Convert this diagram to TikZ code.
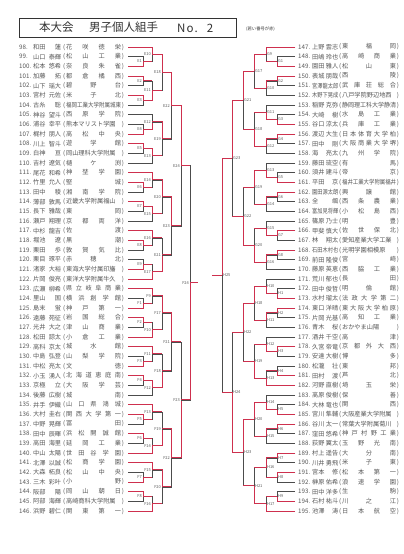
\documentclass[tikz,border=0pt]{standalone}
\usepackage{fontspec}
\setmainfont{Noto Sans CJK JP}
\usepackage{graphicx}
\usetikzlibrary{calc}
\definecolor{rl}{RGB}{206,48,78}
\newlength\fbw
\newcommand\fitbox[2]{\settowidth\fbw{#2}\ifdim\fbw>#1\relax\resizebox{#1}{\height}{#2}\else\makebox[#1][s]{#2}\fi}
\tikzset{
  txt/.style={font=\fontsize{6.2}{7}\selectfont, text=black!66, inner sep=0pt, anchor=west},
  br/.style={draw=black!70, line width=0.6pt},
  win/.style={draw=rl, line width=1.0pt},
  lb/.style={font=\fontsize{4}{4}\selectfont, text=black!65, inner sep=0.9pt},
}
\newcommand\lp[3]{%
  \pgfmathsetmacro\yy{47+(#1-98)*9.667}%
  \node[txt] (n#1) at (19,\yy) {#1.};
  \node[txt] (m#1) at (33,\yy) {\fitbox{28pt}{#2}};
  \node[txt] (s#1) at (63,\yy) {(\hspace{0.8pt}\fitbox{55pt}{#3}\hspace{0.8pt})};
  \coordinate (p#1) at (128,\yy);
}
\newcommand\rp[3]{%
  \pgfmathsetmacro\yy{47+(#1-147)*9.667}%
  \node[txt] (n#1) at (298,\yy) {#1.};
  \node[txt] (m#1) at (312,\yy) {\fitbox{26pt}{#2}};
  \node[txt] (s#1) at (339,\yy) {(\hspace{0.8pt}\fitbox{54pt}{#3}\hspace{0.8pt})};
  \coordinate (p#1) at (295,\yy);
}
% name, A, A-is-match, B, B-is-match, x, winner, label anchor
\newcommand\mt[8]{%
  \path let \p1=(#2), \p2=(#4) in coordinate (#1) at (#6pt,{0.5*\y1+0.5*\y2});
  \draw[br] (#2) -- (#2 -| #1) -- (#4 -| #1) -- (#4);
  \ifnum#3=1 \draw[win] (#2) -- (#2 -| #1);\fi
  \ifnum#5=1 \draw[win] (#4) -- (#4 -| #1);\fi
  \ifnum#7=1 \draw[win] (#2) -- (#2 -| #1) -- (#1);\else \draw[win] (#4) -- (#4 -| #1) -- (#1);\fi
  \node[lb,anchor=#8] (l#1) at (#1) {#1};
}
\begin{document}
\begin{tikzpicture}[x=1pt,y=-1pt]
\useasboundingbox[fill=white] (0,0) rectangle (404,554);
% header
\node[draw=black!80, line width=0.8pt, minimum width=217pt, minimum height=19pt, inner sep=0pt, anchor=north west] (hdr) at (19,18) {};
\node[anchor=west, inner sep=0pt, font=\fontsize{11.5}{12}\selectfont, text=black!80] (t1) at (39,27.5) {本大会};
\node[anchor=west, inner sep=0pt, font=\fontsize{11.5}{12}\selectfont, text=black!80] (t2) at (89,27.5) {男子個人組手};
\node[anchor=west, inner sep=0pt, font=\fontsize{11.5}{12}\selectfont, text=black!80] (t3) at (177,28) {N\kern1.2pt o\kern1pt .\kern9pt 2};
\node[anchor=west, inner sep=0pt, font=\fontsize{4.3}{5}\selectfont, text=black!80] (t4) at (246,29) {(若い番号が赤)};
% left players
\lp{98}{和田 蓮}{花 咲 徳 栄}
\lp{99}{山口 泰輝}{松 山 工 業}
\lp{100}{松本 悠希}{奈 良 朱 雀}
\lp{101}{加藤 拓}{都 倉 橘 西}
\lp{102}{山下 瑶大}{碧 野 台}
\lp{103}{宮村 元佐}{米 子 北}
\lp{104}{古糸 聡}{福岡工業大学附属城東}
\lp{105}{神谷 望斗}{西 原 学 院}
\lp{106}{浦谷 幸平}{熊本マリスト学園}
\lp{107}{梶村 朋人}{高 松 中 央}
\lp{108}{川上 智斗}{遊 学 館}
\lp{109}{白神 亘}{岡山理科大学附属}
\lp{110}{吉村 遼気}{樋 ケ 渕}
\lp{111}{尾花 和希}{神 埜 学 園}
\lp{112}{竹里 允人}{堅 城}
\lp{113}{田中 稜}{湘 南 学 院}
\lp{114}{薄部 敦馬}{近畿大学附属福山}
\lp{115}{長下 雅哉}{東 岡}
\lp{116}{瀬戸 翔理}{京 都 両 洋}
\lp{117}{中杉 龍吉}{佐 渡}
\lp{118}{堀池 遼}{黒 潮}
\lp{119}{栗田 歩}{敦 賀 気 比}
\lp{120}{栗目 琢平}{赤 穂 北}
\lp{121}{渚家 大裕}{東海大学付属印旛}
\lp{122}{片岡 俊亮}{東洋大学附属牛久}
\lp{123}{広瀬 柳希}{県 立 岐 阜 商 業}
\lp{124}{里山 国}{横 浜 創 学 館}
\lp{125}{島末 蛍}{神 戸 第 一}
\lp{126}{遠藤 苑征}{岩 国 総 合}
\lp{127}{光井 大之}{津 山 商 業}
\lp{128}{松田 諒太}{小 倉 工 業}
\lp{129}{高科 京太}{城 水 館}
\lp{130}{中島 弘登}{山 梨 学 院}
\lp{131}{中松 亮太}{文 徳}
\lp{132}{小玉 湧人}{北 海 道 恵 庭 南}
\lp{133}{京極 立}{大 阪 学 芸}
\lp{134}{後藤 広樹}{城 南}
\lp{135}{井手 伊織}{山 口 県 鴻 城}
\lp{136}{大村 圭右}{関 西 大 学 第 一}
\lp{137}{中野 晃輝}{冨 田}
\lp{138}{田中 辰暉}{浜 松 開 誠 館}
\lp{139}{高田 海里}{延 岡 工 業}
\lp{140}{中山 太陽}{世 田 谷 学 園}
\lp{141}{北澤 以誠}{松 商 学 園}
\lp{142}{大森 柘良}{松 山 中 央}
\lp{143}{三木 彩叶}{小 野}
\lp{144}{阪部 陽}{岡 山 朝 日}
\lp{145}{阿部 海輝}{高崎商科大学附属}
\lp{146}{浜野 碧仁}{関 東 第 一}
% right players
\rp{147}{上野 雲志}{東 福 岡}
\rp{148}{田嶋 玲也}{高 崎 商 業}
\rp{149}{園田 雅人}{松 山 東}
\rp{150}{表城 朋哉}{西 陵}
\rp{151}{宮澤龍太郎}{武 庫 荘 総 合}
\rp{152}{木野下晃成}{八戸学院野辺地西}
\rp{153}{稲野 克弥}{静岡理工科大学静清}
\rp{154}{大崎 樹}{水 島 工 業}
\rp{155}{谷口 涼太}{兵 庫 工 業}
\rp{156}{渡辺 大生}{日 本 体 育 大 学 柏}
\rp{157}{田中 剛}{大 阪 商 業 大 学 堺}
\rp{158}{海 亮太}{九 州 学 院}
\rp{159}{藤田 琉空}{有 馬}
\rp{160}{須井 建斗}{帝 京}
\rp{161}{平田 京}{福井工業大学附属福井}
\rp{162}{園田源太朗}{興 譲 館}
\rp{163}{全 颯}{西 条 農 業}
\rp{164}{富加見将輝}{小 松 島 西}
\rp{165}{篠原 乃士}{明 豊}
\rp{166}{甲斐 慎大}{佐 世 保 北}
\rp{167}{林 翔太}{愛知産業大学工業}
\rp{168}{石田木村也}{光明学園相模原}
\rp{169}{前田 隆俊}{宮 崎}
\rp{170}{藤原 英恵}{西 脇 工 業}
\rp{171}{荒川 郁也}{長 田}
\rp{172}{田中 俊哲}{明 倫 館}
\rp{173}{水村 瑠太}{法 政 大 学 第 二}
\rp{174}{東口 洋晴}{東 大 阪 大 学 柏 原}
\rp{175}{片岡 光基}{高 知 工 業}
\rp{176}{青木 桜}{おかやま山陽}
\rp{177}{酒井 千空}{高 津}
\rp{178}{久宮 帝竜}{京 都 外 大 西}
\rp{179}{安達 大樹}{博 多}
\rp{180}{松瀧 壮}{東 邦}
\rp{181}{田村 渡}{芦 北}
\rp{182}{河野 直樹}{埼 玉 栄}
\rp{183}{髙原 俊樹}{保 善}
\rp{184}{大林 竜也}{関 西}
\rp{185}{宮川 隼輔}{大阪産業大学附属}
\rp{186}{谷川 太一}{常葉大学附属菊川}
\rp{187}{窪田 悠希}{神 戸 村 野 工 業}
\rp{188}{荻野 翼太}{玉 野 光 南}
\rp{189}{村上 遥告}{大 分 南}
\rp{190}{川井 勇飛}{米 子 東}
\rp{191}{宮本 修}{松 本 第 一}
\rp{192}{榊原 佑希}{浪 速 学 園}
\rp{193}{田中 洋多}{生 駒}
\rp{194}{石村 祐斗}{川 之 江}
\rp{195}{池澤 涛}{日 本 航 空}
% ---------- E block
\mt{E1}{p99}{0}{p100}{0}{143}{2}{east}
\mt{E2}{p101}{0}{p102}{0}{143}{1}{east}
\mt{E3}{p103}{0}{p104}{0}{143}{1}{east}
\mt{E4}{p106}{0}{p107}{0}{143}{2}{east}
\mt{E5}{p108}{0}{p109}{0}{143}{1}{east}
\mt{E6}{p112}{0}{p113}{0}{143}{1}{east}
\mt{E7}{p114}{0}{p115}{0}{143}{1}{east}
\mt{E8}{p118}{0}{p119}{0}{143}{1}{east}
\mt{E9}{p120}{0}{p121}{0}{143}{2}{east}
\mt{E10}{p98}{0}{E1}{1}{152}{1}{east}
\mt{E11}{E2}{1}{E3}{1}{152}{2}{east}
\mt{E12}{p105}{0}{E4}{1}{152}{2}{east}
\mt{E13}{E5}{1}{p110}{0}{152}{1}{east}
\mt{E14}{p111}{0}{E6}{1}{152}{1}{east}
\mt{E15}{E7}{1}{p116}{0}{152}{1}{east}
\mt{E16}{p117}{0}{E8}{1}{152}{1}{east}
\mt{E17}{E9}{1}{p122}{0}{152}{2}{east}
\mt{E18}{E10}{1}{E11}{1}{162}{1}{east}
\mt{E19}{E12}{1}{E13}{1}{162}{1}{east}
\mt{E20}{E14}{1}{E15}{1}{162}{1}{east}
\mt{E21}{E16}{1}{E17}{1}{162}{2}{east}
\mt{E22}{E18}{1}{E19}{1}{171}{1}{east}
\mt{E23}{E20}{1}{E21}{1}{171}{1}{east}
\mt{E24}{E22}{1}{E23}{1}{181}{1}{east}
% ---------- F block
\mt{F1}{p124}{0}{p125}{0}{143}{2}{east}
\mt{F2}{p126}{0}{p127}{0}{143}{1}{east}
\mt{F3}{p130}{0}{p131}{0}{143}{2}{east}
\mt{F4}{p132}{0}{p133}{0}{143}{1}{east}
\mt{F5}{p136}{0}{p137}{0}{143}{1}{east}
\mt{F6}{p138}{0}{p139}{0}{143}{1}{east}
\mt{F7}{p142}{0}{p143}{0}{143}{2}{east}
\mt{F8}{p144}{0}{p145}{0}{143}{1}{east}
\mt{F9}{p123}{0}{F1}{1}{152}{1}{east}
\mt{F10}{F2}{1}{p128}{0}{152}{2}{east}
\mt{F11}{p129}{0}{F3}{1}{152}{1}{east}
\mt{F12}{F4}{1}{p134}{0}{152}{1}{east}
\mt{F13}{p135}{0}{F5}{1}{152}{1}{east}
\mt{F14}{F6}{1}{p140}{0}{152}{2}{east}
\mt{F15}{p141}{0}{F7}{1}{152}{1}{east}
\mt{F16}{F8}{1}{p146}{0}{152}{2}{east}
\mt{F17}{F9}{1}{F10}{1}{162}{1}{east}
\mt{F18}{F11}{1}{F12}{1}{162}{2}{east}
\mt{F19}{F13}{1}{F14}{1}{162}{2}{east}
\mt{F20}{F15}{1}{F16}{1}{162}{1}{east}
\mt{F21}{F17}{1}{F18}{1}{171}{1}{east}
\mt{F22}{F19}{1}{F20}{1}{171}{1}{east}
\mt{F23}{F21}{1}{F22}{1}{181}{2}{east}
\mt{F24}{E24}{1}{F23}{1}{190}{2}{east}
% ---------- G block
\mt{G1}{p148}{0}{p149}{0}{277}{2}{west}
\mt{G2}{p150}{0}{p151}{0}{277}{1}{west}
\mt{G3}{p154}{0}{p155}{0}{277}{2}{west}
\mt{G4}{p156}{0}{p157}{0}{277}{1}{west}
\mt{G5}{p160}{0}{p161}{0}{277}{2}{west}
\mt{G6}{p162}{0}{p163}{0}{277}{1}{west}
\mt{G7}{p166}{0}{p167}{0}{277}{1}{west}
\mt{G8}{p168}{0}{p169}{0}{277}{1}{west}
\mt{G9}{p147}{0}{G1}{1}{266}{1}{west}
\mt{G10}{G2}{1}{p152}{0}{266}{1}{west}
\mt{G11}{p153}{0}{G3}{1}{266}{2}{west}
\mt{G12}{G4}{1}{p158}{0}{266}{1}{west}
\mt{G13}{p159}{0}{G5}{1}{266}{2}{west}
\mt{G14}{G6}{1}{p164}{0}{266}{1}{west}
\mt{G15}{p165}{0}{G7}{1}{266}{2}{west}
\mt{G16}{G8}{1}{p170}{0}{266}{1}{west}
\mt{G17}{G9}{1}{G10}{1}{254}{1}{west}
\mt{G18}{G11}{1}{G12}{1}{254}{2}{west}
\mt{G19}{G13}{1}{G14}{1}{254}{1}{west}
\mt{G20}{G15}{1}{G16}{1}{254}{2}{west}
\mt{G21}{G17}{1}{G18}{1}{243}{1}{west}
\mt{G22}{G19}{1}{G20}{1}{243}{2}{west}
\mt{G23}{G21}{1}{G22}{1}{232}{1}{west}
% ---------- H block
\mt{H1}{p172}{0}{p173}{0}{277}{2}{west}
\mt{H2}{p174}{0}{p175}{0}{277}{1}{west}
\mt{H3}{p178}{0}{p179}{0}{277}{1}{west}
\mt{H4}{p180}{0}{p181}{0}{277}{2}{west}
\mt{H5}{p184}{0}{p185}{0}{277}{2}{west}
\mt{H6}{p186}{0}{p187}{0}{277}{1}{west}
\mt{H7}{p189}{0}{p190}{0}{277}{1}{west}
\mt{H8}{p191}{0}{p192}{0}{277}{1}{west}
\mt{H9}{p193}{0}{p194}{0}{277}{2}{west}
\mt{H10}{p171}{0}{H1}{1}{266}{2}{west}
\mt{H11}{H2}{1}{p176}{0}{266}{1}{west}
\mt{H12}{p177}{0}{H3}{1}{266}{2}{west}
\mt{H13}{H4}{1}{p182}{0}{266}{2}{west}
\mt{H14}{p183}{0}{H5}{1}{266}{2}{west}
\mt{H15}{H6}{1}{p188}{0}{266}{1}{west}
\mt{H16}{H7}{1}{H8}{1}{266}{1}{west}
\mt{H17}{H9}{1}{p195}{0}{266}{2}{west}
\mt{H18}{H10}{1}{H11}{1}{254}{1}{west}
\mt{H19}{H12}{1}{H13}{1}{254}{2}{west}
\mt{H20}{H14}{1}{H15}{1}{254}{1}{west}
\mt{H21}{H16}{1}{H17}{1}{254}{2}{west}
\mt{H22}{H18}{1}{H19}{1}{243}{1}{west}
\mt{H23}{H20}{1}{H21}{1}{243}{1}{west}
\mt{H24}{H22}{1}{H23}{1}{232}{2}{west}
\mt{H25}{G23}{1}{H24}{1}{222}{1}{west}
% output stubs toward the centre
\coordinate (oL) at ([xshift=8pt]F24);
\coordinate (oR) at ([xshift=-10pt]H25);
\draw[win] (F24) -- (oL);
\draw[win] (H25) -- (oR);
\end{tikzpicture}
\end{document}
